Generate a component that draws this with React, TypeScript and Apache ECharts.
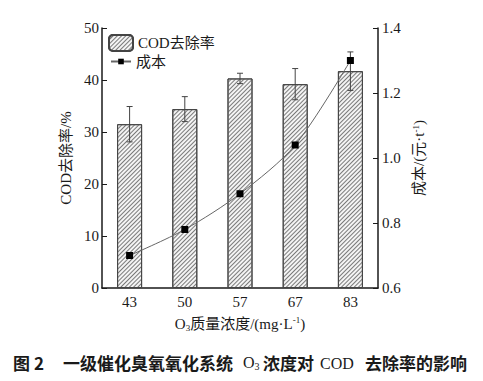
import React, { useEffect, useRef } from "react";
import * as echarts from "echarts";

const categories = ["43", "50", "57", "67", "83"];
const codRemoval = [31.5, 34.4, 40.3, 39.2, 41.7];
const codError = [3.4, 2.4, 1.0, 3.0, 3.7];
const cost = [0.7, 0.78, 0.89, 1.04, 1.3];

const SERIF = "'Liberation Serif', 'Noto Sans CJK SC', serif";
const CAPTION = "'Noto Sans CJK SC', sans-serif";
const INK = "#1a1a1a";

export default function App() {
  const ref = useRef<HTMLDivElement>(null);
  useEffect(() => {
    if (!ref.current) return;
    const chart = echarts.init(ref.current, undefined, { renderer: "svg" });
    const errData = categories.map((_, i) => [i, codRemoval[i], codError[i]]);
    const option: any = {
      animation: false,
      backgroundColor: "#fff",
      textStyle: { fontFamily: SERIF, color: INK },
      grid: { left: 102, right: 105, top: 28, bottom: 93, containLabel: false },
      legend: [
        {
          data: ["COD去除率"],
          left: 108,
          top: 34,
          padding: 0,
          itemWidth: 24,
          itemHeight: 16,
          textStyle: { fontSize: 15, fontFamily: SERIF, color: INK },
        },
        {
          data: ["成本"],
          left: 110,
          top: 54,
          padding: 0,
          itemWidth: 20,
          itemHeight: 7,
          textStyle: { fontSize: 15, fontFamily: SERIF, color: INK },
        },
      ],
      xAxis: {
        type: "category",
        data: categories,
        boundaryGap: true,
        axisLine: { lineStyle: { color: INK, width: 1.5 } },
        axisTick: { inside: true, alignWithLabel: true, length: 4, lineStyle: { color: INK } },
        axisLabel: { fontSize: 15, color: INK, margin: 6, fontFamily: SERIF },
        name: "O{sub|3}质量浓度/(mg·L{sup|-1})",
        nameLocation: "middle",
        nameGap: 27,
        nameTextStyle: {
          fontSize: 15,
          color: INK,
          fontFamily: SERIF,
          rich: {
            sub: { fontSize: 9, verticalAlign: "bottom", padding: [8, 0, 0, 0], fontFamily: SERIF, color: INK },
            sup: { fontSize: 9, verticalAlign: "top", padding: [0, 0, 6, 0], fontFamily: SERIF, color: INK },
          },
        },
      },
      yAxis: [
        {
          type: "value",
          min: 0,
          max: 50,
          interval: 10,
          axisLine: { show: true, lineStyle: { color: INK, width: 1.5 } },
          axisTick: { show: true, inside: true, length: 5, lineStyle: { color: INK } },
          axisLabel: { fontSize: 15, color: INK, margin: 3, fontFamily: SERIF },
          splitLine: { show: false },
          name: "COD去除率/%",
          nameLocation: "middle",
          nameGap: 28,
          nameRotate: 90,
          nameTextStyle: { fontSize: 15, color: INK, fontFamily: SERIF },
        },
        {
          type: "value",
          min: 0.6,
          max: 1.4,
          interval: 0.2,
          position: "right",
          axisLine: { show: true, lineStyle: { color: INK, width: 1.5 } },
          axisTick: { show: true, inside: true, length: 5, lineStyle: { color: INK } },
          axisLabel: {
            fontSize: 15,
            color: INK,
            margin: 4,
            fontFamily: SERIF,
            formatter: (v: number) => v.toFixed(1),
          },
          splitLine: { show: false },
          name: "成本/(元·t{sup|-1})",
          nameLocation: "middle",
          nameGap: 30,
          nameRotate: 90,
          nameTextStyle: {
            fontSize: 15,
            color: INK,
            fontFamily: SERIF,
            rich: {
              sup: { fontSize: 9, verticalAlign: "top", padding: [0, 0, 6, 0], fontFamily: SERIF, color: INK },
            },
          },
        },
      ],
      series: [
        {
          name: "COD去除率",
          type: "bar",
          data: codRemoval,
          barWidth: 25,
          yAxisIndex: 0,
          itemStyle: {
            color: "#f4f4f4",
            borderColor: "#444",
            borderWidth: 1,
            decal: {
              symbol: "rect",
              dashArrayX: [1, 0],
              dashArrayY: [0.9, 2],
              rotation: -Math.PI / 4,
              color: "#7a7a7a",
              symbolSize: 1,
            },
          },
          z: 2,
        },
        {
          name: "误差",
          type: "custom",
          yAxisIndex: 0,
          z: 3,
          data: errData,
          renderItem: (params: any, api: any) => {
            const i = api.value(0);
            const v = api.value(1);
            const e = api.value(2);
            const top = api.coord([i, v + e]);
            const bot = api.coord([i, v - e]);
            const w = 3;
            const st = { stroke: "#444", lineWidth: 1 };
            return {
              type: "group",
              children: [
                { type: "line", shape: { x1: top[0], y1: top[1], x2: bot[0], y2: bot[1] }, style: st },
                { type: "line", shape: { x1: top[0] - w, y1: top[1], x2: top[0] + w, y2: top[1] }, style: st },
                { type: "line", shape: { x1: bot[0] - w, y1: bot[1], x2: bot[0] + w, y2: bot[1] }, style: st },
              ],
            };
          },
        },
        {
          name: "成本",
          type: "line",
          data: cost,
          yAxisIndex: 1,
          smooth: 0.3,
          symbol: "rect",
          symbolSize: 7,
          itemStyle: { color: "#000" },
          lineStyle: { color: "#666", width: 1 },
          z: 5,
        },
      ],
      graphic: [
        { type: "text", left: 13, top: 354, style: { text: "图", font: `bold 17px ${CAPTION}`, fill: INK } },
        { type: "text", left: 34, top: 354, style: { text: "2", font: `bold 17px ${CAPTION}`, fill: INK } },
        { type: "text", left: 63, top: 354, style: { text: "一级催化臭氧氧化系统", font: `bold 17px ${CAPTION}`, fill: INK } },
        {
          type: "text",
          left: 243,
          top: 355,
          style: {
            text: "O{s|3}",
            font: `16px ${SERIF}`,
            fill: INK,
            rich: { s: { fontSize: 10, fontFamily: SERIF, verticalAlign: "bottom", padding: [8, 0, 0, 0], fill: INK } },
          },
        },
        { type: "text", left: 263, top: 354, style: { text: "浓度对", font: `bold 17px ${CAPTION}`, fill: INK } },
        { type: "text", left: 320, top: 355, style: { text: "COD", font: `16px ${SERIF}`, fill: INK } },
        { type: "text", left: 365, top: 354, style: { text: "去除率的影响", font: `bold 17px ${CAPTION}`, fill: INK } },
      ],
    };
    chart.setOption(option);
    return () => chart.dispose();
  }, []);
  return <div ref={ref} style={{ position: "fixed", left: 0, top: 0, width: 483, height: 381 }} />;
}
